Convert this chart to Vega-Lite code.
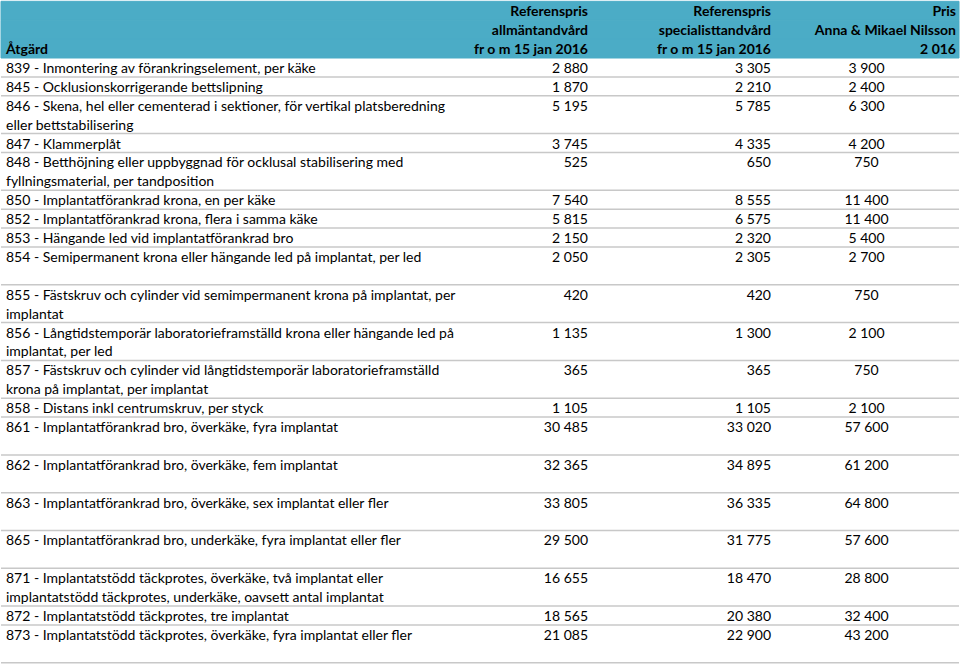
{
  "$schema": "https://vega.github.io/schema/vega-lite/v6.json",
  "width": 960,
  "height": 665,
  "autosize": {"type": "fit", "contains": "padding"},
  "padding": 0,
  "background": "#ffffff",
  "config": {
    "view": {"stroke": null},
    "locale": {"number": {"decimal": ",", "thousands": " ", "grouping": [3], "currency": ["", " kr"]}},
    "text": {"font": "Lato", "fontSize": 14, "color": "#000000"}
  },
  "datasets": {
    "header": [
      {"line": -1, "col": 0, "text": "Åtgärd"},
      {"line": -3, "col": 1, "text": "Referenspris"},
      {"line": -2, "col": 1, "text": "allmäntandvård"},
      {"line": -1, "col": 1, "text": "fr o m 15 jan 2016"},
      {"line": -3, "col": 2, "text": "Referenspris"},
      {"line": -2, "col": 2, "text": "specialisttandvård"},
      {"line": -1, "col": 2, "text": "fr o m 15 jan 2016"},
      {"line": -3, "col": 4, "text": "Pris"},
      {"line": -2, "col": 4, "text": "Anna & Mikael Nilsson"},
      {"line": -1, "col": 4, "text": "2 016"}
    ],
    "body": [
      {"line": 0, "last": 0, "atgard": "839 - Inmontering av förankringselement, per käke", "allm": 2880, "spec": 3305, "pris": 3900},
      {"line": 1, "last": 1, "atgard": "845 - Ocklusionskorrigerande bettslipning", "allm": 1870, "spec": 2210, "pris": 2400},
      {"line": 2, "last": 3, "atgard": "846 - Skena, hel eller cementerad i sektioner, för vertikal platsberedning", "allm": 5195, "spec": 5785, "pris": 6300},
      {"line": 3, "atgard": "eller bettstabilisering"},
      {"line": 4, "last": 4, "atgard": "847 - Klammerplåt", "allm": 3745, "spec": 4335, "pris": 4200},
      {"line": 5, "last": 6, "atgard": "848 - Betthöjning eller uppbyggnad för ocklusal stabilisering med", "allm": 525, "spec": 650, "pris": 750},
      {"line": 6, "atgard": "fyllningsmaterial, per tandposition"},
      {"line": 7, "last": 7, "atgard": "850 - Implantatförankrad krona, en per käke", "allm": 7540, "spec": 8555, "pris": 11400},
      {"line": 8, "last": 8, "atgard": "852 - Implantatförankrad krona, flera i samma käke", "allm": 5815, "spec": 6575, "pris": 11400},
      {"line": 9, "last": 9, "atgard": "853 - Hängande led vid implantatförankrad bro", "allm": 2150, "spec": 2320, "pris": 5400},
      {"line": 10, "last": 11, "atgard": "854 - Semipermanent krona eller hängande led på implantat, per led", "allm": 2050, "spec": 2305, "pris": 2700},
      {"line": 12, "last": 13, "atgard": "855 - Fästskruv och cylinder vid semimpermanent krona på implantat, per", "allm": 420, "spec": 420, "pris": 750},
      {"line": 13, "atgard": "implantat"},
      {"line": 14, "last": 15, "atgard": "856 - Långtidstemporär laboratorieframställd krona eller hängande led på", "allm": 1135, "spec": 1300, "pris": 2100},
      {"line": 15, "atgard": "implantat, per led"},
      {"line": 16, "last": 17, "atgard": "857 - Fästskruv och cylinder vid långtidstemporär laboratorieframställd", "allm": 365, "spec": 365, "pris": 750},
      {"line": 17, "atgard": "krona på implantat, per implantat"},
      {"line": 18, "last": 18, "atgard": "858 - Distans inkl centrumskruv, per styck", "allm": 1105, "spec": 1105, "pris": 2100},
      {"line": 19, "last": 20, "atgard": "861 - Implantatförankrad bro, överkäke, fyra implantat", "allm": 30485, "spec": 33020, "pris": 57600},
      {"line": 21, "last": 22, "atgard": "862 - Implantatförankrad bro, överkäke, fem implantat", "allm": 32365, "spec": 34895, "pris": 61200},
      {"line": 23, "last": 24, "atgard": "863 - Implantatförankrad bro, överkäke, sex implantat eller fler", "allm": 33805, "spec": 36335, "pris": 64800},
      {"line": 25, "last": 26, "atgard": "865 - Implantatförankrad bro, underkäke, fyra implantat eller fler", "allm": 29500, "spec": 31775, "pris": 57600},
      {"line": 27, "last": 28, "atgard": "871 - Implantatstödd täckprotes, överkäke, två implantat eller", "allm": 16655, "spec": 18470, "pris": 28800},
      {"line": 28, "atgard": "implantatstödd täckprotes, underkäke, oavsett antal implantat"},
      {"line": 29, "last": 29, "atgard": "872 - Implantatstödd täckprotes, tre implantat", "allm": 18565, "spec": 20380, "pris": 32400},
      {"line": 30, "last": 31, "atgard": "873 - Implantatstödd täckprotes, överkäke, fyra implantat eller fler", "allm": 21085, "spec": 22900, "pris": 43200}
    ]
  },
  "resolve": {"scale": {"x": "shared", "y": "shared"}},
  "encoding": {
    "y": {
      "field": "line",
      "type": "ordinal",
      "axis": null,
      "scale": {
        "domain": [-3, -2, -1, 0, 1, 2, 3, 4, 5, 6, 7, 8, 9, 10, 11, 12, 13, 14, 15, 16, 17, 18, 19, 20, 21, 22, 23, 24, 25, 26, 27, 28, 29, 30, 31],
        "range": [0.3, 661.8],
        "paddingInner": 0,
        "paddingOuter": 0
      }
    }
  },
  "layer": [
    {
      "data": {"name": "header"},
      "transform": [{"filter": "datum.col == 1"}],
      "mark": {"type": "bar", "color": "#4BACC6", "stroke": "#4BACC6", "strokeWidth": 1}
    },
    {
      "data": {"name": "body"},
      "transform": [{"filter": "isValid(datum.last)"}],
      "mark": {"type": "rule", "color": "#c8c8c8", "strokeWidth": 1.5},
      "encoding": {
        "y": {"field": "last", "type": "ordinal", "bandPosition": 1}
      }
    },
    {
      "data": {"name": "header"},
      "transform": [{"filter": "datum.col == 0"}],
      "mark": {"type": "text", "align": "left", "fontWeight": "bold", "dy": 1.5},
      "encoding": {
        "x": {"field": "col", "type": "quantitative", "axis": null,
              "scale": {"domain": [0, 1, 2, 3, 4], "range": [5, 587, 770, 865.5, 955], "nice": false, "zero": false}},
        "text": {"field": "text"}
      }
    },
    {
      "data": {"name": "header"},
      "transform": [{"filter": "datum.col > 0"}],
      "mark": {"type": "text", "align": "right", "fontWeight": "bold", "dy": 1.5},
      "encoding": {
        "x": {"field": "col", "type": "quantitative"},
        "text": {"field": "text"}
      }
    },
    {
      "data": {"name": "body"},
      "mark": {"type": "text", "align": "left", "dy": 1.5},
      "encoding": {
        "x": {"datum": 0, "type": "quantitative"},
        "text": {"field": "atgard"}
      }
    },
    {
      "data": {"name": "body"},
      "transform": [{"filter": "isValid(datum.allm)"}],
      "mark": {"type": "text", "align": "right", "dy": 1.5},
      "encoding": {
        "x": {"datum": 1, "type": "quantitative"},
        "text": {"field": "allm", "type": "quantitative", "format": ",d"}
      }
    },
    {
      "data": {"name": "body"},
      "transform": [{"filter": "isValid(datum.spec)"}],
      "mark": {"type": "text", "align": "right", "dy": 1.5},
      "encoding": {
        "x": {"datum": 2, "type": "quantitative"},
        "text": {"field": "spec", "type": "quantitative", "format": ",d"}
      }
    },
    {
      "data": {"name": "body"},
      "transform": [{"filter": "isValid(datum.pris)"}],
      "mark": {"type": "text", "align": "center", "dy": 1.5},
      "encoding": {
        "x": {"datum": 3, "type": "quantitative"},
        "text": {"field": "pris", "type": "quantitative", "format": ",d"}
      }
    }
  ]
}
